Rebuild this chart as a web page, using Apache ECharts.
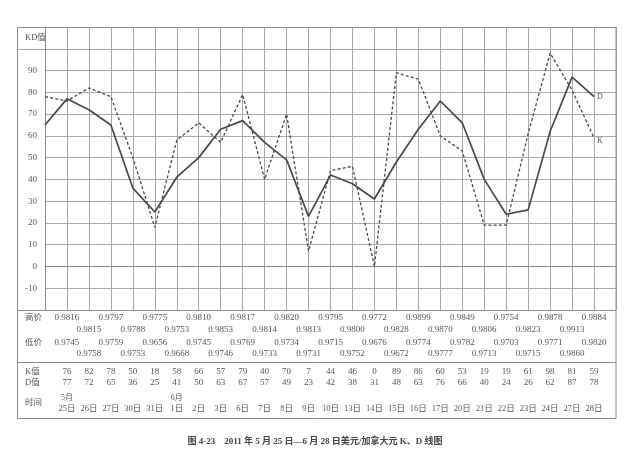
<!DOCTYPE html>
<html>
<head>
<meta charset="utf-8">
<script src="https://cdn.jsdelivr.net/npm/echarts@6/dist/echarts.min.js"></script>
<style>
  html, body { margin: 0; padding: 0; background: #fff; }
  #chart { width: 630px; height: 452px; }
</style>
</head>
<body>
<div id="chart"></div>
<script>
// ---- data ----
const prevK = 78;   // value shown at the left edge, before 25日
const prevD = 65;
const dates = ['25日','26日','27日','30日','31日','1日','2日','3日','6日','7日','8日','9日','10日','13日','14日','15日','16日','17日','20日','21日','22日','23日','24日','27日','28日'];
const months = ['5月','','','','','6月','','','','','','','','','','','','','','','','','','',''];
const kValues = [76,82,78,50,18,58,66,57,79,40,70,7,44,46,0,89,86,60,53,19,19,61,98,81,59];
const dValues = [77,72,65,36,25,41,50,63,67,57,49,23,42,38,31,48,63,76,66,40,24,26,62,87,78];
const highs = [0.9816,0.9815,0.9797,0.9788,0.9775,0.9753,0.9810,0.9853,0.9817,0.9814,0.9820,0.9813,0.9795,0.9800,0.9772,0.9828,0.9899,0.9870,0.9849,0.9806,0.9754,0.9823,0.9878,0.9913,0.9884];
const lows  = [0.9745,0.9758,0.9759,0.9753,0.9656,0.9668,0.9745,0.9746,0.9769,0.9733,0.9734,0.9731,0.9715,0.9752,0.9676,0.9672,0.9774,0.9777,0.9782,0.9713,0.9703,0.9715,0.9771,0.9860,0.9820];
const yTicks = [-10,0,10,20,30,40,50,60,70,80,90];
const titleText = '图 4-23　2011 年 5 月 25 日—6 月 28 日美元/加拿大元 K、D 线图';

// ---- layout / style ----
const FONT = "'Liberation Serif', 'Noto Sans CJK SC', serif";
const TXT = '#555';
const GRIDC = '#a8a8a8';
const FRAME = '#8a8a8a';
const L = 17.5, R = 616, TOP = 27, PB = 310, B = 418;
const Y100 = TOP + (110 - 100) * (PB - TOP) / 130;

const kData = [[0, prevK]].concat(kValues.map((v, i) => [i + 1, v]));
const dData = [[0, prevD]].concat(dValues.map((v, i) => [i + 1, v]));

function rowAxis(offset, fmt, fontSize) {
  return {
    type: 'value', gridIndex: 0, position: 'bottom', offset: offset,
    min: 0, max: 26, interval: 1,
    axisLine: { show: false }, axisTick: { show: false }, splitLine: { show: false },
    axisLabel: {
      margin: 0, fontSize: fontSize || 9, lineHeight: fontSize || 9, color: TXT, fontFamily: FONT,
      showMinLabel: true, showMaxLabel: true,
      formatter: function (v) {
        const i = Math.round(v) - 1;
        if (i < 0 || i >= dates.length) return '';
        return fmt(i);
      }
    }
  };
}

const chart = echarts.init(document.getElementById('chart'), null, { renderer: 'canvas' });

const headers = [
  { t: 'KD值', y: 38 },
  { t: '高价', y: 318 },
  { t: '低价', y: 343 },
  { t: 'K值', y: 372 },
  { t: 'D值', y: 383 },
  { t: '时间', y: 403 }
];

chart.setOption({
  backgroundColor: '#fff',
  animation: false,
  title: {
    text: titleText, left: 'center', top: 432,
    textStyle: { fontSize: 9, fontWeight: 'bold', color: '#444', fontFamily: FONT }
  },
  grid: { left: 45, right: 630 - R, top: TOP, bottom: 452 - PB, containLabel: false },
  xAxis: [
    {
      type: 'value', gridIndex: 0, min: 0, max: 26, interval: 1, position: 'bottom',
      axisLine: { show: true, lineStyle: { color: FRAME, width: 1 } },
      axisTick: { show: false }, axisLabel: { show: false },
      splitLine: { show: true, lineStyle: { color: GRIDC, width: 1 } }
    },
    rowAxis(3.5, i => (i % 2 === 0 ? highs[i].toFixed(4) : '')),
    rowAxis(15.5, i => (i % 2 === 1 ? highs[i].toFixed(4) : '')),
    rowAxis(28.5, i => (i % 2 === 0 ? lows[i].toFixed(4) : '')),
    rowAxis(39.5, i => (i % 2 === 1 ? lows[i].toFixed(4) : '')),
    rowAxis(57.5, i => String(kValues[i])),
    rowAxis(68.5, i => String(dValues[i])),
    rowAxis(84, i => months[i], 8),
    rowAxis(95, i => dates[i], 8.5)
  ],
  yAxis: {
    type: 'value', min: -20, max: 110, interval: 10,
    axisLine: { show: true, lineStyle: { color: FRAME, width: 1 } },
    axisTick: { show: false },
    splitLine: { show: true, lineStyle: { color: GRIDC, width: 1 } },
    axisLabel: {
      margin: 8, fontSize: 9, color: TXT, fontFamily: FONT,
      showMinLabel: true, showMaxLabel: true,
      formatter: v => (yTicks.indexOf(Math.round(v)) >= 0 ? String(Math.round(v)) : '')
    }
  },
  series: [
    {
      name: 'D', type: 'line', data: dData, xAxisIndex: 0, showSymbol: false, symbol: 'none',
      lineStyle: { color: '#484848', width: 1.7, type: 'solid' },
      endLabel: { show: true, formatter: 'D', distance: 3, fontSize: 8, color: TXT, fontFamily: FONT },
      z: 3
    },
    {
      name: 'K', type: 'line', data: kData, xAxisIndex: 0, showSymbol: false, symbol: 'none',
      lineStyle: { color: '#484848', width: 1.3, type: [3, 2.2] },
      endLabel: { show: true, formatter: 'K', distance: 3, offset: [0, 3], fontSize: 8, color: TXT, fontFamily: FONT },
      z: 3
    }
  ],
  graphic: [
    { type: 'rect', shape: { x: L, y: TOP + 0.5, width: R - L, height: B - TOP }, style: { fill: null, stroke: FRAME, lineWidth: 1 }, z: 10 },
    { type: 'line', shape: { x1: L, y1: Math.round(Y100) + 0.5, x2: 45, y2: Math.round(Y100) + 0.5 }, style: { stroke: GRIDC, lineWidth: 1 }, z: 10 },
    { type: 'line', shape: { x1: L, y1: PB + 0.5, x2: R, y2: PB + 0.5 }, style: { stroke: FRAME, lineWidth: 1 }, z: 10 },
    { type: 'line', shape: { x1: L, y1: 362.5, x2: R, y2: 362.5 }, style: { stroke: FRAME, lineWidth: 1 }, z: 10 }
  ].concat(headers.map(h => ({
    type: 'text', left: 25, top: h.y - 4.5, z: 10,
    style: { text: h.t, fontSize: 8.5, fill: TXT, fontFamily: FONT }
  })))
});
</script>
</body>
</html>
